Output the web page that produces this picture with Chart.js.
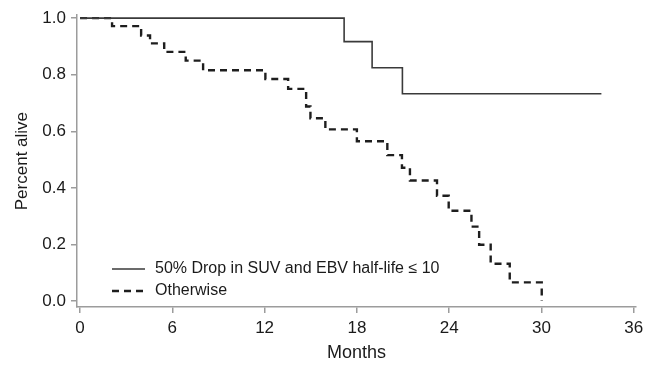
<!DOCTYPE html>
<html>
<head>
<meta charset="utf-8">
<script src="https://cdn.jsdelivr.net/npm/chart.js@4.4.1/dist/chart.umd.min.js"></script>
<style>
  html, body { margin: 0; padding: 0; background: #fff; }
  #wrap { width: 653px; height: 366px; position: relative; }
</style>
</head>
<body>
<div id="wrap"><canvas id="chart" width="653" height="366"></canvas></div>
<script>
// Kaplan-Meier steps (month of drop, survival after drop)
const solidMonths = [0, 17.17, 18.99, 20.96, 33.9];
const solidSurvival = [1.0, 0.917, 0.825, 0.733, 0.733];

const dashedMonths = [0, 2.08, 3.97, 4.55, 5.47, 6.87, 8.0, 12.05, 13.53, 14.7, 14.98, 15.95,
  18.0, 19.98, 20.93, 21.45, 23.21, 23.97, 25.45, 25.95, 26.7, 27.94, 30.02];
const dashedSurvival = [1.0, 0.972, 0.939, 0.911, 0.881, 0.85, 0.816, 0.785, 0.75, 0.688, 0.646, 0.607,
  0.565, 0.516, 0.471, 0.426, 0.372, 0.319, 0.263, 0.199, 0.132, 0.066, 0.0];

const xTicks = [0, 6, 12, 18, 24, 30, 36];
const yTicks = [0, 0.2, 0.4, 0.6, 0.8, 1.0];

const seriesLabels = ["50% Drop in SUV and EBV half-life \u2264 10", "Otherwise"];

const FONT = "'Liberation Sans', Arial, Helvetica, sans-serif";
const AXIS_GRAY = "#9c9c9c";
const TEXT = "#1a1a1a";

const toPoints = (xs, ys) => xs.map((x, i) => ({ x: x, y: ys[i] }));

// Legend drawn inside the plot area, like the original
const insideLegend = {
  id: "insideLegend",
  afterDatasetsDraw(chart) {
    const { ctx, chartArea } = chart;
    const x0 = chartArea.left + 35;
    const rows = [chartArea.bottom - 38, chartArea.bottom - 16];
    ctx.save();
    chart.data.datasets.forEach((ds, i) => {
      const y = rows[i];
      ctx.beginPath();
      ctx.strokeStyle = ds.borderColor;
      ctx.lineWidth = ds.borderWidth;
      ctx.setLineDash(ds.borderDash || []);
      ctx.moveTo(x0, y);
      ctx.lineTo(x0 + 33, y);
      ctx.stroke();
      ctx.setLineDash([]);
      ctx.fillStyle = TEXT;
      ctx.font = "16px " + FONT;
      ctx.textBaseline = "middle";
      ctx.textAlign = "left";
      ctx.fillText(ds.label, x0 + 43, y);
    });
    ctx.restore();
  },
};

new Chart(document.getElementById("chart").getContext("2d"), {
  type: "line",
  data: {
    datasets: [
      {
        label: seriesLabels[0],
        data: toPoints(solidMonths, solidSurvival),
        borderColor: "#3a3a3a",
        borderWidth: 1.6,
        stepped: "before",
        pointRadius: 0,
        fill: false,
      },
      {
        label: seriesLabels[1],
        data: toPoints(dashedMonths, dashedSurvival),
        borderColor: "#1e1e1e",
        borderWidth: 2.4,
        borderDash: [7, 5],
        borderCapStyle: "butt",
        stepped: "before",
        pointRadius: 0,
        fill: false,
      },
    ],
  },
  options: {
    responsive: false,
    animation: false,
    layout: { padding: { top: 13, right: 17, left: 0, bottom: 0 } },
    plugins: { legend: { display: false }, tooltip: { enabled: false } },
    scales: {
      x: {
        type: "linear",
        min: -0.2,
        max: 36.15,
        afterBuildTicks: (scale) => { scale.ticks = xTicks.map((v) => ({ value: v })); },
        afterFit: (scale) => { scale.height = 59; },
        ticks: { color: TEXT, font: { family: FONT, size: 17 }, padding: 5, maxRotation: 0 },
        grid: { drawOnChartArea: false, color: AXIS_GRAY, tickLength: 6, lineWidth: 1.5 },
        border: { color: AXIS_GRAY, width: 1.5 },
        title: { display: true, text: "Months", color: TEXT, font: { family: FONT, size: 18 }, padding: { top: 0, bottom: 2 } },
      },
      y: {
        type: "linear",
        min: -0.021,
        max: 1.0105,
        afterBuildTicks: (scale) => { scale.ticks = yTicks.map((v) => ({ value: v })); },
        afterFit: (scale) => { scale.width = 77; },
        ticks: { color: TEXT, font: { family: FONT, size: 17 }, padding: 5, callback: (v) => v.toFixed(1) },
        grid: { drawOnChartArea: false, color: AXIS_GRAY, tickLength: 6, lineWidth: 1.5 },
        border: { color: AXIS_GRAY, width: 1.5 },
        title: { display: true, text: "Percent alive", color: TEXT, font: { family: FONT, size: 17 }, padding: { top: 12, bottom: 0 } },
      },
    },
  },
  plugins: [insideLegend],
});
</script>
</body>
</html>
